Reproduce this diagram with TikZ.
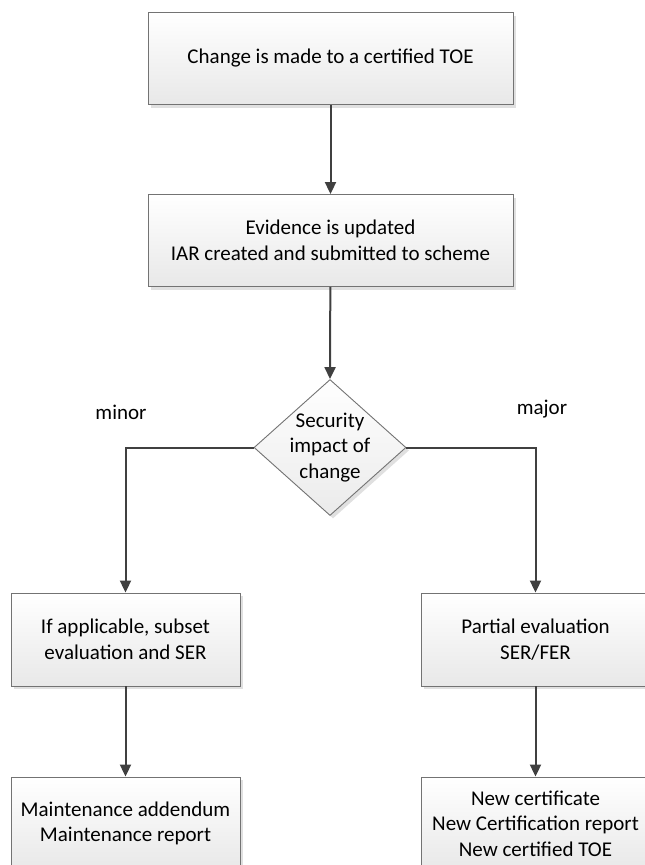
\documentclass[tikz,border=0pt]{standalone}
\usepackage{fontspec}
\setmainfont{Carlito}
\usetikzlibrary{arrows.meta,shapes.geometric,shadows}
\begin{document}
\begin{tikzpicture}[x=1pt,y=-1pt,
  every node/.style={font=\fontsize{21}{25.5}\selectfont, text=black},
  procbox/.style={draw=black!55, line width=0.9pt, top color=white, bottom color=black!9,
    minimum width=365pt, minimum height=92pt, align=center, inner sep=0pt,
    general shadow={fill=black!12, shadow xshift=3pt, shadow yshift=-3pt}},
  smallbox/.style={procbox, minimum width=229pt, minimum height=93pt},
  decision/.style={diamond, draw=black!55, line width=0.9pt, top color=white, bottom color=black!8,
    minimum width=152pt, minimum height=136pt, inner sep=0pt,
    general shadow={fill=black!12, shadow xshift=3pt, shadow yshift=-3pt}},
  flow/.style={draw=black!75, line width=2pt, -{Triangle[length=12pt,width=11pt]}},
  lbl/.style={inner sep=0pt}]
\useasboundingbox (0,0) rectangle (645,865);
\node[procbox] (b1) at (330.5,58.5) {Change is made to a certified TOE};
\node[procbox] (b2) at (330.5,240.5) {Evidence is updated\\IAR created and submitted to scheme};
\node[decision] (d) at (330,447.5) {};
\node[align=center, inner sep=0pt] (dt) at (d) {Security\\impact of\\change};
\node[smallbox] (l1) at (125.5,639.5) {If applicable, subset\\evaluation and SER};
\node[smallbox] (r1) at (535.5,639.5) {Partial evaluation\\SER/FER};
\node[smallbox] (l2) at (125.5,823.5) {Maintenance addendum\\Maintenance report};
\node[smallbox] (r2) at (535.5,823.5) {New certificate\\New Certification report\\New certified TOE};
\node[lbl] (minor) at (121,412) {minor};
\node[lbl] (major) at (542,409) {major};
\draw[flow] (b1) -- (b2);
\draw[flow] (b2) -- (d.north);
\draw[flow] (d.west) -| (l1.north);
\draw[flow] (d.east) -| (r1.north);
\draw[flow] (l1) -- (l2);
\draw[flow] (r1) -- (r2);
\end{tikzpicture}
\end{document}
